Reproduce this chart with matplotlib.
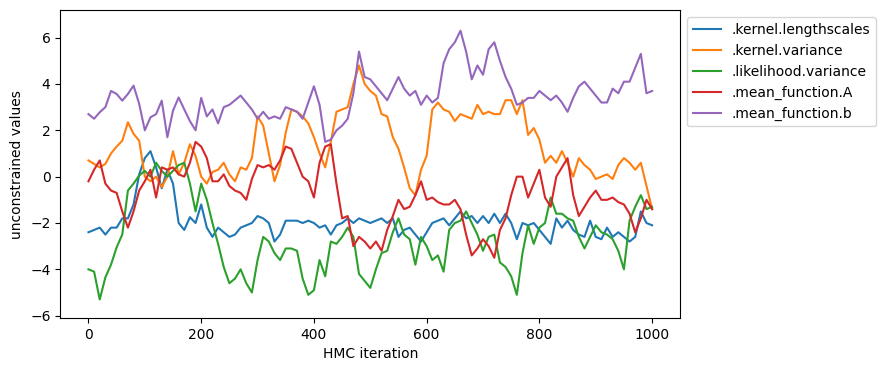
import matplotlib
matplotlib.use("Agg")
import matplotlib.pyplot as plt
import numpy as np

iterations = list(range(0, 1001, 10))

labels = [".kernel.lengthscales", ".kernel.variance", ".likelihood.variance",
          ".mean_function.A", ".mean_function.b"]

lengthscales = [
    -2.4, -2.3, -2.2, -2.5, -2.2, -2.2, -1.8, -1.8, -1.2, 0.1,
    0.8, 1.1, 0.4, -0.5, 0.3, -0.3, -2.0, -2.3, -1.75, -2.0,
    -1.2, -2.2, -2.6, -2.2, -2.4, -2.6, -2.5, -2.2, -2.1, -2.0,
    -1.7, -1.8, -2.0, -2.8, -2.5, -1.9, -1.9, -1.9, -2.0, -1.9,
    -2.0, -2.2, -2.1, -2.5, -2.1, -2.0, -1.8, -2.0, -1.8, -1.9,
    -2.0, -1.9, -1.8, -2.0, -1.8, -2.6, -2.3, -2.2, -2.5, -2.8,
    -2.4, -2.0, -1.9, -1.8, -2.1, -1.8, -1.5, -1.8, -1.7, -2.0,
    -1.7, -2.0, -1.6, -2.0, -1.6, -2.0, -2.7, -2.0, -2.1, -2.0,
    -2.3, -2.6, -2.9, -1.8, -2.2, -1.9, -2.3, -2.5, -2.6, -1.9,
    -2.6, -2.7, -2.2, -2.6, -2.4, -2.6, -2.8, -2.6, -1.5, -2.0, -2.1]

kernel_variance = [
    0.7, 0.55, 0.4, 0.55, 1.0, 1.3, 1.55, 2.35, 1.85, 1.55,
    0.0, -0.2, 0.0, -0.45, 0.0, 1.1, 0.1, 0.6, 1.4, 0.9,
    0.0, -0.3, 0.2, 0.3, 0.6, 0.1, -0.2, 0.4, 0.3, 0.8,
    2.6, 2.2, 1.0, -0.2, 0.5, 1.9, 2.9, 2.8, 2.6, 2.3,
    1.7, 1.0, 0.4, 1.5, 2.8, 2.9, 3.0, 4.0, 4.8, 4.0,
    3.7, 3.5, 2.7, 2.6, 1.7, 1.2, 0.4, -0.5, -0.8, 0.3,
    0.9, 2.9, 3.2, 2.9, 2.8, 2.4, 2.7, 2.6, 2.5, 3.1,
    2.7, 2.8, 2.7, 2.7, 3.3, 3.3, 2.7, 3.3, 1.8, 2.1,
    1.6, 0.6, 0.9, 0.6, 1.1, 0.6, 0.0, 0.8, 0.5, 0.3,
    -0.1, 0.0, 0.1, -0.1, 0.5, 0.8, 0.6, 0.3, 0.6, -0.4, -1.4]

likelihood_variance = [
    -4.0, -4.1, -5.3, -4.35, -3.8, -3.05, -2.5, -0.6, -0.3, 0.05,
    0.25, 0.0, 0.6, 0.25, 0.0, 0.25, 0.5, 0.6, -0.3, -1.5,
    -0.3, -1.0, -2.0, -2.9, -3.9, -4.6, -4.4, -4.0, -4.6, -5.0,
    -3.6, -2.6, -2.8, -3.3, -3.6, -3.1, -3.1, -3.2, -4.4, -5.1,
    -4.9, -3.6, -4.3, -2.8, -2.9, -2.6, -2.2, -2.6, -4.2, -4.5,
    -4.8, -4.0, -3.3, -3.2, -2.4, -1.8, -2.5, -2.7, -3.8, -2.6,
    -3.0, -3.6, -3.4, -4.1, -2.3, -2.0, -1.9, -1.5, -2.0, -2.5,
    -3.2, -2.6, -2.5, -3.7, -3.9, -4.3, -5.1, -3.3, -2.1, -2.9,
    -2.2, -2.0, -0.9, -1.6, -1.6, -1.8, -1.9, -2.6, -3.1, -2.6,
    -2.1, -2.4, -2.5, -2.7, -3.2, -4.0, -1.9, -1.3, -0.8, -1.4, -1.3]

mean_A = [
    -0.2, 0.3, 0.7, -0.3, -0.6, -0.7, -1.5, -2.2, -1.5, -0.6,
    -0.2, 0.3, -0.9, 0.4, 0.3, 0.4, 0.1, 0.0, 0.6, 1.5,
    1.3, 0.8, -0.2, -0.2, 0.1, -0.4, -0.6, -0.7, -1.0, -0.1,
    0.5, 0.4, 0.5, 0.3, 0.7, 1.3, 1.2, 0.6, 0.0, -0.2,
    -0.9, 0.6, 1.3, 1.4, -0.3, -1.8, -1.7, -3.0, -2.6, -2.8,
    -3.1, -2.8, -3.2, -2.3, -1.7, -1.0, -1.4, -1.3, -0.8, -0.2,
    -1.0, -0.9, -1.1, -1.2, -1.2, -1.0, -1.4, -2.5, -3.4, -3.1,
    -2.7, -3.0, -3.5, -2.3, -1.8, -0.8, 0.0, 0.0, -0.9, -0.3,
    0.3, -0.9, -1.3, 0.0, 0.4, 0.8, -0.8, -1.7, -1.3, -0.9,
    -0.6, -1.0, -1.0, -0.9, -1.1, -1.2, -1.6, -2.4, -1.8, -1.0, -1.4]

mean_b = [
    2.7, 2.5, 2.78, 3.0, 3.7, 3.57, 3.28, 3.57, 3.93, 3.14,
    2.0, 2.56, 2.7, 3.28, 1.7, 2.85, 3.42, 2.9, 2.4, 2.0,
    3.4, 2.6, 2.9, 2.3, 3.0, 3.1, 3.3, 3.5, 3.2, 2.9,
    2.5, 2.8, 2.5, 2.6, 2.5, 3.0, 2.9, 2.8, 2.5, 3.2,
    3.9, 3.1, 1.5, 1.6, 2.0, 2.2, 2.5, 3.6, 5.4, 4.3,
    4.2, 3.9, 3.6, 3.3, 3.8, 4.3, 3.8, 3.5, 3.7, 3.1,
    3.5, 3.2, 3.4, 4.9, 5.5, 5.8, 6.3, 5.4, 4.2, 4.8,
    4.4, 5.5, 5.8, 5.0, 4.3, 3.8, 3.1, 3.2, 3.4, 3.4,
    3.7, 3.5, 3.3, 3.5, 3.2, 2.8, 3.4, 3.9, 4.1, 3.8,
    3.5, 3.2, 3.2, 3.8, 3.6, 4.1, 4.1, 4.7, 5.3, 3.6, 3.7]

series = [lengthscales, kernel_variance, likelihood_variance, mean_A, mean_b]

fig = plt.figure(figsize=(8.85, 3.71), dpi=100)
ax = fig.add_axes([0.0681, 0.1429, 0.7006, 0.8293])
for vals, lab in zip(series, labels):
    ax.plot(iterations, vals, label=lab)
ax.set_ylim(-6.1, 7.18)
ax.set_xlabel("HMC iteration")
ax.set_ylabel("unconstrained values")
ax.legend(loc="upper left", bbox_to_anchor=(1, 1))
fig.savefig("out.png", dpi=100)
